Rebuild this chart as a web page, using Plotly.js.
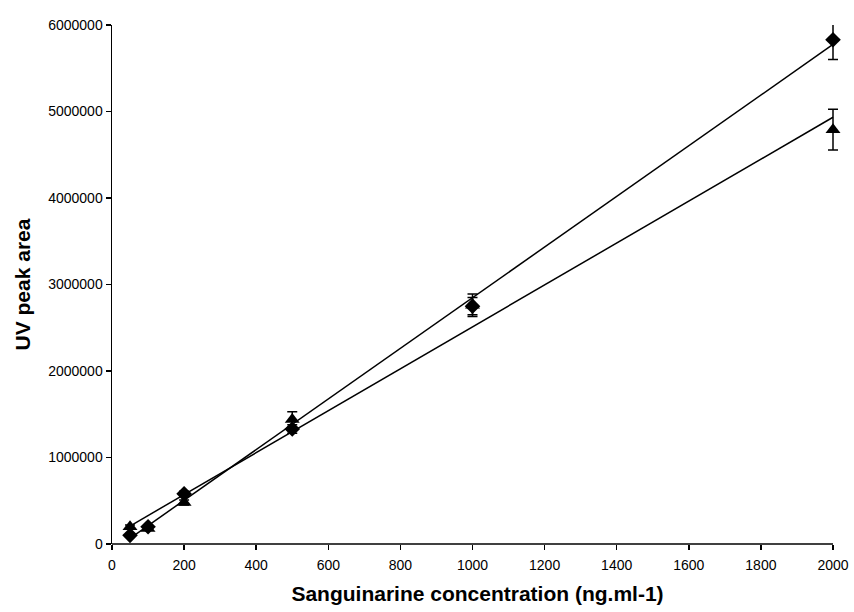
<!DOCTYPE html>
<html><head><meta charset="utf-8">
<script src="https://cdn.plot.ly/plotly-3.0.1.min.js"></script>
<style>body{margin:0;background:#fff}#c{width:854px;height:612px}</style>
</head><body><div id="c"></div>
<script>
const conc = [50, 100, 200, 500, 1000, 2000];
const diamondArea = [100000, 200000, 580000, 1330000, 2750000, 5830000];
const diamondErr = [20000, 20000, 30000, 50000, 100000, 230000];
const triangleArea = [200000, 180000, 480000, 1440000, 2760000, 4790000];
const triangleErr = [20000, 20000, 30000, 90000, 130000, 235000];
const yTicks = [0, 1000000, 2000000, 3000000, 4000000, 5000000, 6000000];
const xTicks = [0, 200, 400, 600, 800, 1000, 1200, 1400, 1600, 1800, 2000];

function fit(x, y) {
  const n = x.length;
  const mx = x.reduce((a, b) => a + b, 0) / n;
  const my = y.reduce((a, b) => a + b, 0) / n;
  let sxy = 0, sxx = 0;
  for (let i = 0; i < n; i++) { sxy += (x[i] - mx) * (y[i] - my); sxx += (x[i] - mx) ** 2; }
  const m = sxy / sxx, b = my - m * mx;
  const xs = [Math.min(...x), Math.max(...x)];
  return { x: xs, y: xs.map(v => m * v + b) };
}
const fd = fit(conc, diamondArea), ft = fit(conc, triangleArea);

const XMAX = 2000;
const XRANGE = XMAX * 731 / 721;  // a little room right of 2000 so error caps are not clipped

const traces = [
  { x: fd.x, y: fd.y, mode: 'lines', line: { color: '#000', width: 1.5 }, hoverinfo: 'skip' },
  { x: ft.x, y: ft.y, mode: 'lines', line: { color: '#000', width: 1.5 }, hoverinfo: 'skip' },
  { x: conc, y: diamondArea, mode: 'markers', cliponaxis: false, marker: { symbol: 'diamond', size: 12, color: '#000' },
    error_y: { type: 'data', array: diamondErr, visible: true, color: '#000', thickness: 1.5, width: 5 } },
  { x: conc, y: triangleArea, mode: 'markers', cliponaxis: false, marker: { symbol: 'triangle-up', size: 13, color: '#000' },
    error_y: { type: 'data', array: triangleErr, visible: true, color: '#000', thickness: 1.5, width: 5 } }
];

const layout = {
  width: 854, height: 612,
  margin: { l: 112, r: 11, t: 25, b: 68 },
  paper_bgcolor: '#fff', plot_bgcolor: '#fff',
  showlegend: false,
  font: { family: 'Liberation Sans, Arial, sans-serif', size: 14, color: '#000' },
  xaxis: {
    range: [0, XRANGE], tickvals: xTicks, ticktext: xTicks.map(String),
    showgrid: false, zeroline: false, showline: false,
    ticks: 'outside', ticklen: 5, tickcolor: '#000', tickwidth: 1.5,
    tickfont: { size: 14 }, ticklabelstandoff: 3,
    title: { text: 'Sanguinarine concentration (ng.ml-1)', font: { size: 21, weight: 'bold' }, standoff: 14 }
  },
  yaxis: {
    range: [0, 6000000], tickvals: yTicks, ticktext: yTicks.map(String),
    showgrid: false, zeroline: false, showline: true, linecolor: '#000', linewidth: 1.5,
    ticks: 'outside', ticklen: 5, tickcolor: '#000', tickwidth: 1.5,
    tickfont: { size: 14 },
    title: { text: 'UV peak area', font: { size: 21, weight: 'bold' }, standoff: 12 }
  },
  shapes: [
    { type: 'line', xref: 'x', yref: 'paper', x0: 0, x1: XMAX, y0: 0, y1: 0,
      line: { color: '#000', width: 1.5 }, layer: 'below' }
  ]
};
Plotly.newPlot('c', traces, layout, { displayModeBar: false, staticPlot: true });
</script></body></html>
